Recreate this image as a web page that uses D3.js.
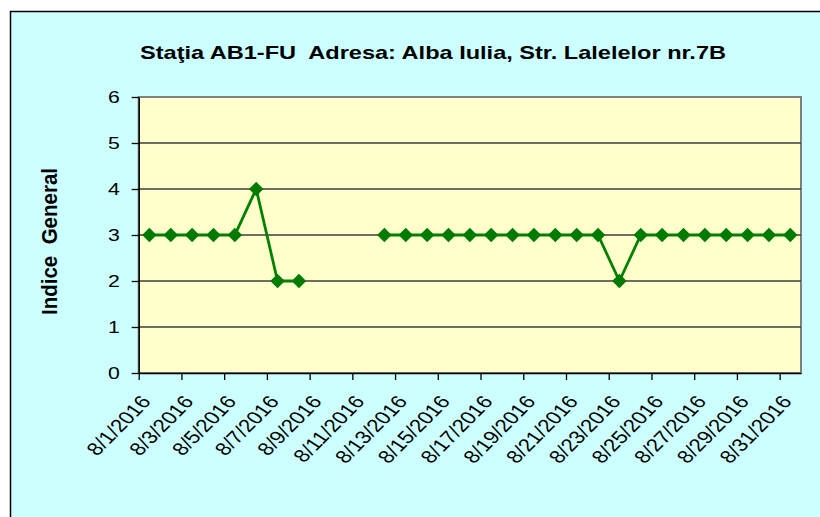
<!DOCTYPE html>
<html>
<head>
<meta charset="utf-8">
<script src="https://cdn.jsdelivr.net/npm/d3@7"></script>
<style>
  body { margin: 0; background: #fff; }
  svg { display: block; font-family: Arial, "Liberation Sans", sans-serif; }
</style>
</head>
<body>
<div id="chart"></div>
<script>
// date categories, one a day
var days = ["8/1/2016","8/2/2016","8/3/2016","8/4/2016","8/5/2016","8/6/2016","8/7/2016","8/8/2016",
  "8/9/2016","8/10/2016","8/11/2016","8/12/2016","8/13/2016","8/14/2016","8/15/2016","8/16/2016",
  "8/17/2016","8/18/2016","8/19/2016","8/20/2016","8/21/2016","8/22/2016","8/23/2016","8/24/2016",
  "8/25/2016","8/26/2016","8/27/2016","8/28/2016","8/29/2016","8/30/2016","8/31/2016"];
// indice general per day, null = no data
var indice = [3,3,3,3,3,4,2,2,null,null,null,3,3,3,3,3,3,3,3,3,3,3,2,3,3,3,3,3,3,3,3];
var yTicks = [0,1,2,3,4,5,6];
var titleText = "Staţia AB1-FU  Adresa: Alba Iulia, Str. Lalelelor nr.7B";
var yLabel = "Indice  General";

var width = 820, height = 517;
var plot = {left: 138.7, right: 801, top: 97, bottom: 373};
var sx = 1.25; // text in the picture is a bit wider than tall

var svg = d3.select("#chart").append("svg")
  .attr("width", width)
  .attr("height", height);

// chart area
svg.append("rect")
  .attr("x", 10.5).attr("y", 11.5)
  .attr("width", width).attr("height", height)
  .attr("fill", "#ccffff")
  .attr("stroke", "#000").attr("stroke-width", 1.5);

// plot area
svg.append("rect")
  .attr("x", plot.left).attr("y", plot.top)
  .attr("width", plot.right - plot.left).attr("height", plot.bottom - plot.top)
  .attr("fill", "#ffffcc")
  .attr("stroke", "#808080").attr("stroke-width", 2);

var x = d3.scaleBand().domain(days).range([plot.left, plot.right]).padding(0);
var xi = d3.scaleLinear().domain([0, days.length]).range([plot.left, plot.right]);
var y = d3.scaleLinear().domain([0, 6]).range([plot.bottom, plot.top]);

// gridlines
svg.append("g").selectAll("line")
  .data(yTicks.filter(function(t){ return t > 0 && t < 6; }))
  .join("line")
  .attr("x1", plot.left).attr("x2", plot.right)
  .attr("y1", function(d){ return y(d); }).attr("y2", function(d){ return y(d); })
  .attr("stroke", "#3c3c3c").attr("stroke-width", 1.3);

// y axis
var yAxis = svg.append("g")
  .attr("transform", "translate(" + plot.left + ",0)")
  .call(d3.axisLeft(y).tickValues(yTicks).tickFormat(d3.format("d")).tickSize(7).tickPadding(12).tickSizeOuter(0));
yAxis.select(".domain").attr("stroke", "#000").attr("stroke-width", 1.5);
yAxis.selectAll(".tick line").attr("stroke", "#000").attr("stroke-width", 1.3);
yAxis.selectAll(".tick text")
  .attr("font-size", 17).attr("fill", "#000")
  .attr("font-family", "Arial, 'Liberation Sans', sans-serif")
  .attr("x", -19 / sx)
  .attr("transform", "scale(" + sx + ",1)");

// x axis: ticks on band edges, every 2nd day
var evenIdx = d3.range(0, days.length, 2);
var xAxis = svg.append("g")
  .attr("transform", "translate(0," + plot.bottom + ")")
  .call(d3.axisBottom(xi).tickValues(evenIdx).tickSize(7).tickFormat("").tickSizeOuter(0));
xAxis.select(".domain").attr("stroke", "#000").attr("stroke-width", 1.5);
xAxis.selectAll(".tick line").attr("stroke", "#000").attr("stroke-width", 1.3);

var ang = Math.atan(sx) * 180 / Math.PI; // looks like 45 deg once stretched
svg.append("g").selectAll("text")
  .data(evenIdx)
  .join("text")
  .attr("transform", function(i){
    var cx = x(days[i]) + x.bandwidth() / 2 + 2.5;
    return "translate(" + cx + "," + (plot.bottom + 29) + ") scale(" + sx + ",1) rotate(" + (-ang) + ")";
  })
  .attr("text-anchor", "end")
  .attr("font-size", 18)
  .attr("fill", "#000")
  .text(function(i){ return days[i]; });

// series
var pts = days.map(function(d, i){ return {day: d, v: indice[i]}; });
var line = d3.line()
  .defined(function(d){ return d.v != null; })
  .x(function(d){ return x(d.day) + x.bandwidth() / 2; })
  .y(function(d){ return y(d.v); });

svg.append("path")
  .datum(pts)
  .attr("d", line)
  .attr("fill", "none")
  .attr("stroke", "#008000")
  .attr("stroke-width", 2.8);

svg.append("g").selectAll("path")
  .data(pts.filter(function(d){ return d.v != null; }))
  .join("path")
  .attr("transform", function(d){
    return "translate(" + (x(d.day) + x.bandwidth() / 2) + "," + y(d.v) + ") rotate(45)";
  })
  .attr("d", d3.symbol(d3.symbolSquare, 105))
  .attr("fill", "#007a00");

// title
svg.append("text")
  .attr("x", 140).attr("y", 59)
  .attr("font-size", 19).attr("font-weight", "bold")
  .attr("fill", "#000")
  .attr("textLength", 586)
  .attr("lengthAdjust", "spacingAndGlyphs")
  .style("white-space", "pre")
  .text(titleText);

// y axis title
svg.append("text")
  .attr("transform", "translate(57,241.5) scale(1.2,1) rotate(-90)")
  .attr("text-anchor", "middle")
  .attr("font-size", 19).attr("font-weight", "bold")
  .attr("fill", "#000")
  .attr("textLength", 147)
  .attr("lengthAdjust", "spacingAndGlyphs")
  .style("white-space", "pre")
  .text(yLabel);
</script>
</body>
</html>
